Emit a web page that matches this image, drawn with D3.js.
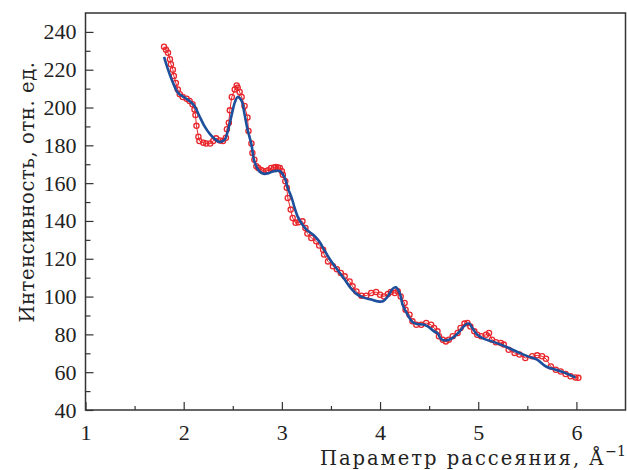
<!DOCTYPE html>
<html>
<head>
<meta charset="utf-8">
<script src="https://cdn.jsdelivr.net/npm/d3@7"></script>
<style>
  body { margin: 0; background: #fff; }
  svg text { font-family: "Liberation Serif", "DejaVu Serif", serif; fill: #222; }
</style>
</head>
<body>
<div id="chart"></div>
<script>
// measured points (red circles)
const measQ = [1.80, 1.82, 1.84, 1.86, 1.87, 1.89, 1.90, 1.92, 1.94, 1.96, 1.99, 2.03, 2.06, 2.09, 2.11, 2.12,
  2.13, 2.15, 2.16, 2.20, 2.23, 2.27, 2.30, 2.33, 2.37, 2.40, 2.43, 2.44, 2.46, 2.47, 2.49, 2.52, 2.54,
  2.55, 2.57, 2.59, 2.62, 2.65, 2.66, 2.69, 2.70, 2.72, 2.74, 2.76, 2.79, 2.81, 2.84, 2.86, 2.89, 2.92,
  2.94, 2.96, 2.98, 3.00, 3.01, 3.035, 3.05, 3.06, 3.09, 3.11, 3.14, 3.17, 3.21, 3.24, 3.26, 3.30, 3.35,
  3.38, 3.42, 3.43, 3.47, 3.52, 3.56, 3.60, 3.64, 3.69, 3.72, 3.76, 3.81, 3.86, 3.91, 3.96, 4.00, 4.04,
  4.08, 4.11, 4.15, 4.18, 4.21, 4.25, 4.26, 4.30, 4.33, 4.37, 4.42, 4.47, 4.52, 4.55, 4.585, 4.60, 4.64,
  4.67, 4.70, 4.74, 4.79, 4.82, 4.86, 4.89, 4.92, 4.96, 4.99, 5.03, 5.08, 5.11, 5.14, 5.18, 5.23, 5.26,
  5.31, 5.37, 5.42, 5.48, 5.55, 5.60, 5.65, 5.69, 5.74, 5.79, 5.84, 5.89, 5.94, 5.99, 6.02];
const measI = [232.2, 230.5, 229.0, 225.5, 222.9, 220.0, 216.7, 213.0, 209.6, 207.0, 205.6, 204.7, 203.5, 201.7, 199.0, 196.0,
  190.3, 184.6, 182.3, 181.4, 181.0, 181.0, 182.3, 183.7, 182.6, 182.3, 184.0, 188.5, 192.0, 198.5, 205.6, 209.6, 211.7,
  210.5, 208.2, 205.6, 200.8, 194.7, 187.6, 181.0, 176.0, 172.4, 168.9, 168.0, 167.0, 166.3, 166.3, 166.8, 168.0, 168.3,
  168.6, 168.3, 168.0, 166.3, 164.5, 161.0, 157.5, 152.2, 146.0, 141.6, 139.0, 139.3, 139.8, 136.3, 133.3, 131.0, 129.2,
  127.0, 124.8, 122.2, 118.6, 116.0, 114.5, 112.5, 110.7, 108.0, 105.4, 102.7, 100.5, 100.5, 101.9, 102.4, 101.0, 100.1,
  101.4, 102.4, 101.9, 102.8, 100.1, 96.6, 93.0, 90.4, 86.9, 85.1, 85.1, 86.0, 85.1, 83.4, 81.6, 79.0, 77.2,
  76.3, 77.2, 79.0, 80.7, 83.4, 85.7, 86.0, 84.2, 81.6, 79.8, 79.0, 79.8, 80.7, 77.2, 75.8, 75.5, 74.6,
  71.9, 70.2, 69.3, 67.5, 68.4, 68.9, 68.4, 67.1, 63.0, 61.3, 60.4, 59.0, 57.8, 57.2, 57.0];

// fitted curve (blue line)
const fitQ = [1.80, 1.84, 1.89, 1.94, 2.01, 2.06, 2.11, 2.16, 2.21, 2.27, 2.32, 2.35, 2.39, 2.42, 2.45, 2.49,
  2.52, 2.55, 2.59, 2.62, 2.65, 2.69, 2.72, 2.77, 2.82, 2.87, 2.92, 2.98, 3.03, 3.06, 3.10, 3.13, 3.16,
  3.21, 3.26, 3.33, 3.38, 3.43, 3.48, 3.54, 3.64, 3.70, 3.77, 3.84, 3.91, 3.97, 4.03, 4.08, 4.13, 4.16,
  4.20, 4.23, 4.28, 4.33, 4.38, 4.45, 4.50, 4.55, 4.59, 4.62, 4.67, 4.74, 4.81, 4.87, 4.91, 4.94, 4.99,
  5.06, 5.14, 5.23, 5.31, 5.42, 5.52, 5.60, 5.69, 5.79, 5.89, 5.99];
const fitI = [226.8, 220.2, 213.2, 207.9, 205.2, 203.5, 200.8, 195.5, 190.3, 185.8, 183.2, 182.0, 182.0, 183.2, 187.6, 196.4,
  202.6, 205.6, 203.5, 196.4, 188.5, 180.5, 171.5, 166.3, 164.9, 165.4, 166.3, 166.3, 162.7, 157.5, 152.2, 146.9, 142.4,
  138.0, 135.0, 132.2, 129.2, 124.8, 120.4, 116.0, 109.0, 104.6, 101.0, 99.3, 98.4, 97.5, 97.5, 100.1, 104.2, 104.9,
  101.9, 95.7, 90.4, 86.6, 85.5, 85.1, 83.7, 81.6, 80.4, 77.6, 76.8, 78.1, 81.6, 85.1, 85.7, 83.4, 79.8,
  77.6, 76.3, 74.6, 72.8, 70.2, 68.1, 66.6, 63.0, 61.3, 59.5, 57.2];

const xTicks = [1, 2, 3, 4, 5, 6];
const yTicks = [40, 60, 80, 100, 120, 140, 160, 180, 200, 220, 240];

const width = 627, height = 470;
const margin = { top: 13, right: 1.5, bottom: 60, left: 85.5 };
const plotW = width - margin.left - margin.right;
const plotH = height - margin.top - margin.bottom;

const svg = d3.select('#chart').append('svg')
    .attr('width', width)
    .attr('height', height);

const plot = svg.append('g')
    .attr('transform', `translate(${margin.left},${margin.top})`);

const x = d3.scaleLinear().domain([1, 6.5]).range([0, plotW]);
const y = d3.scaleLinear().domain([40, 250]).range([plotH, 0]);

// minor ticks (inward)
const xMinor = d3.range(1.5, 6.5, 1);
const yMinor = d3.range(50, 250, 20);

plot.append('g')
    .attr('transform', `translate(0,${plotH})`)
    .call(d3.axisBottom(x).tickValues(xMinor).tickSize(-4).tickFormat(''))
    .call(g => g.select('.domain').remove());
plot.append('g')
    .call(d3.axisLeft(y).tickValues(yMinor).tickSize(-5).tickFormat(''))
    .call(g => g.select('.domain').remove());

// major ticks with labels
const xAxis = plot.append('g')
    .attr('transform', `translate(0,${plotH})`)
    .call(d3.axisBottom(x).tickValues(xTicks).tickSize(-8).tickPadding(14).tickFormat(d3.format('d')));
const yAxis = plot.append('g')
    .call(d3.axisLeft(y).tickValues(yTicks).tickSize(-8).tickPadding(9).tickFormat(d3.format('d')));

[xAxis, yAxis].forEach(g => {
    g.select('.domain').remove();
    g.selectAll('text').attr('font-size', 22).attr('fill', '#222')
        .style('font-family', '"Liberation Serif", serif');
});
plot.selectAll('.tick line').attr('stroke', '#333').attr('stroke-width', 1.2);

// frame
plot.append('rect')
    .attr('width', plotW)
    .attr('height', plotH)
    .attr('fill', 'none')
    .attr('stroke', '#333')
    .attr('stroke-width', 1.5);

// measured data: thin line + hollow circles
const measLine = d3.line()
    .x((d, i) => x(measQ[i]))
    .y(d => y(d));

plot.append('path')
    .datum(measI)
    .attr('fill', 'none')
    .attr('stroke', '#e8262b')
    .attr('stroke-width', 1)
    .attr('d', measLine);

plot.selectAll('.meas')
    .data(measI)
    .enter().append('circle')
    .attr('class', 'meas')
    .attr('cx', (d, i) => x(measQ[i]))
    .attr('cy', d => y(d))
    .attr('r', 2.6)
    .attr('fill', 'none')
    .attr('stroke', '#e8262b')
    .attr('stroke-width', 1.3);

// fit
const fitLine = d3.line()
    .x((d, i) => x(fitQ[i]))
    .y(d => y(d))
    .curve(d3.curveCatmullRom);

plot.append('path')
    .datum(fitI)
    .attr('fill', 'none')
    .attr('stroke', '#1c4f9c')
    .attr('stroke-width', 2.6)
    .attr('d', fitLine);

// axis titles (wider serif, like the original's TeX font)
svg.append('text')
    .attr('text-anchor', 'end')
    .attr('x', 626)
    .attr('y', 465)
    .attr('font-size', 19.5)
    .attr('letter-spacing', 2)
    .style('font-family', '"DejaVu Serif", serif')
    .text('Параметр рассеяния, Å')
  .append('tspan')
    .attr('dy', -9)
    .attr('font-size', 14)
    .attr('letter-spacing', 0)
    .text('−1');

svg.append('text')
    .attr('text-anchor', 'middle')
    .attr('transform', 'rotate(-90)')
    .attr('x', -192)
    .attr('y', 34)
    .attr('font-size', 19.5)
    .attr('letter-spacing', 0.6)
    .style('font-family', '"DejaVu Serif", serif')
    .text('Интенсивность, отн. ед.');
</script>
</body>
</html>
